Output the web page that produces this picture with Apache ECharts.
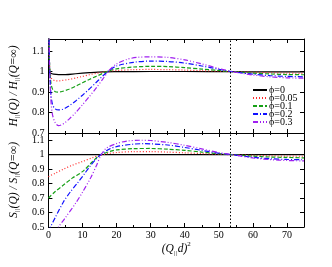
<!DOCTYPE html>
<html><head><meta charset="utf-8">
<script src="https://cdn.jsdelivr.net/npm/echarts@6/dist/echarts.min.js"></script>
<style>html,body{margin:0;padding:0;background:#fff}#c{width:332px;height:267px}</style>
</head><body><div id="c"></div>
<script>
// ---- data ----
const seriesNames = ['ϕ=0', 'ϕ=0.05', 'ϕ=0.1', 'ϕ=0.2', 'ϕ=0.3'];
const xTicks = [0, 10, 20, 30, 40, 50, 60, 70];
const criticalX = 53.5;

// H(Q)/H(Q=inf), top panel
const hX0 = [0, 0.3, 0.7, 1.5, 3, 5, 8, 12, 16, 20, 30, 40, 54, 62, 70, 75];
const hY0 = [1.3, 1.0, 0.992, 0.988, 0.986, 0.986, 0.99, 0.995, 0.999, 1.0, 1.001, 1.001, 1.0, 0.999, 0.999, 0.999];
const hX1 = [0, 0.3, 0.7, 1.2, 2, 3, 4, 6, 8, 10, 12, 14, 16, 18, 20, 25, 30, 35, 40, 45, 50, 54, 60, 65, 70, 75];
const hY1 = [1.35, 1.05, 0.975, 0.962, 0.956, 0.955, 0.957, 0.962, 0.969, 0.977, 0.985, 0.992, 0.998, 1.003, 1.006, 1.01, 1.011, 1.01, 1.008, 1.005, 1.002, 1.0, 0.997, 0.995, 0.993, 0.992];
const hX2 = [0, 0.3, 0.7, 1.2, 2, 2.8, 4, 6, 8, 10, 12, 14, 16, 18, 20, 25, 30, 35, 40, 45, 50, 54, 60, 65, 70, 75];
const hY2 = [1.4, 1.06, 0.95, 0.915, 0.902, 0.9, 0.903, 0.914, 0.929, 0.946, 0.962, 0.977, 0.992, 1.005, 1.014, 1.023, 1.026, 1.025, 1.02, 1.013, 1.006, 1.0, 0.993, 0.989, 0.986, 0.985];
const hX3 = [0, 0.3, 0.7, 1.2, 2, 3, 4, 5, 6, 8, 10, 12, 14, 16, 18, 20, 25, 30, 35, 40, 45, 50, 54, 60, 65, 70, 75];
const hY3 = [1.45, 1.05, 0.9, 0.84, 0.818, 0.813, 0.815, 0.822, 0.832, 0.857, 0.885, 0.915, 0.947, 0.98, 1.008, 1.028, 1.046, 1.052, 1.05, 1.042, 1.028, 1.012, 1.0, 0.988, 0.981, 0.977, 0.975];
const hX4 = [0, 0.3, 0.7, 1.2, 2, 3, 4, 5, 6, 8, 10, 12, 14, 16, 18, 20, 23, 26, 30, 35, 40, 45, 50, 54, 60, 65, 70, 75];
const hY4 = [1.5, 1.05, 0.87, 0.79, 0.75, 0.736, 0.741, 0.752, 0.767, 0.8, 0.838, 0.878, 0.92, 0.965, 1.01, 1.038, 1.06, 1.07, 1.073, 1.07, 1.058, 1.038, 1.016, 1.0, 0.984, 0.975, 0.97, 0.968];

// S(Q)/S(Q=inf), bottom panel
const sX0 = [0, 75];
const sY0 = [1.0, 1.0];
const sX1 = [0, 2, 4.4, 7, 10, 13, 15, 18, 20, 25, 30, 35, 40, 45, 50, 54, 60, 65, 70, 75];
const sY1 = [0.848, 0.872, 0.9, 0.927, 0.953, 0.98, 0.995, 1.01, 1.015, 1.021, 1.021, 1.018, 1.013, 1.008, 1.003, 1.0, 0.995, 0.992, 0.99, 0.989];
const sX2 = [0, 2, 4.4, 7, 10, 13, 15, 18, 20, 25, 30, 35, 40, 45, 50, 54, 60, 65, 70, 75];
const sY2 = [0.7, 0.745, 0.79, 0.838, 0.883, 0.953, 0.995, 1.022, 1.033, 1.042, 1.043, 1.038, 1.03, 1.018, 1.007, 1.0, 0.99, 0.984, 0.981, 0.978];
const sX3 = [0, 0.6, 2, 4.4, 6.5, 8.4, 10.5, 12.2, 14, 15.3, 18, 20, 25, 28, 30, 35, 40, 45, 50, 54, 60, 65, 70, 75];
const sY3 = [0.47, 0.5, 0.565, 0.673, 0.745, 0.8, 0.865, 0.92, 0.97, 1.0, 1.04, 1.056, 1.073, 1.076, 1.075, 1.067, 1.05, 1.03, 1.01, 1.0, 0.982, 0.972, 0.967, 0.965];
const sX4 = [1.5, 2.9, 5, 8, 10, 12.4, 14, 15.5, 17, 20, 23, 27, 30, 35, 40, 45, 50, 54, 60, 65, 70, 75];
const sY4 = [0.46, 0.5, 0.565, 0.665, 0.74, 0.84, 0.92, 1.0, 1.045, 1.077, 1.094, 1.1, 1.098, 1.085, 1.065, 1.04, 1.015, 1.0, 0.978, 0.966, 0.96, 0.957];

// ---- build ----
const hX = [hX0, hX1, hX2, hX3, hX4], hY = [hY0, hY1, hY2, hY3, hY4];
const sX = [sX0, sX1, sX2, sX3, sX4], sY = [sY0, sY1, sY2, sY3, sY4];
const colors = ['#000000', '#ff2a2a', '#16a016', '#1010ff', '#a020f0'];
const dashes = ['solid', [1, 2], [4, 2], [5, 2, 1, 2], [5, 2, 1, 2, 1, 2]];
const zip = (xs, ys) => xs.map((x, i) => [x, ys[i]]);
const serif = 'Liberation Serif, DejaVu Serif, serif';

function xAx(grid, pos, labels) {
  return {
    type: 'value', gridIndex: grid, position: pos, min: 0, max: 75, interval: 10,
    axisLine: { show: true, onZero: false, lineStyle: { color: '#000', width: 1 } },
    axisTick: { show: true, inside: true, length: 4, lineStyle: { color: '#000' } },
    minorTick: { show: true, splitNumber: 2, length: 2, lineStyle: { color: '#000' } },
    axisLabel: { show: labels, color: '#000', fontFamily: serif, fontSize: 10, margin: 3,
      customValues: xTicks },
    splitLine: { show: false }
  };
}
function yAx(grid, pos, min, max, labels, name) {
  const a = {
    type: 'value', gridIndex: grid, position: pos, min: min, max: max, interval: 0.1,
    axisLine: { show: true, onZero: false, lineStyle: { color: '#000', width: 1 } },
    axisTick: { show: true, inside: true, length: 4, lineStyle: { color: '#000' } },
    minorTick: { show: false },
    axisLabel: { show: labels, color: '#000', fontFamily: serif, fontSize: 10, margin: 4,
      formatter: v => String(Math.round(v * 10) / 10), showMaxLabel: false },
    splitLine: { show: false }
  };
  if (name) {
    a.name = name; a.nameLocation = 'middle'; a.nameGap = 19; a.nameRotate = 90;
    a.nameTextStyle = { fontFamily: serif, fontSize: 11, color: '#000',
      rich: { i: { fontFamily: serif, fontStyle: 'italic', fontSize: 11.5, color: '#000', lineHeight: 14 },
              s: { fontFamily: serif, fontStyle: 'italic', fontSize: 7, color: '#000', lineHeight: 14, verticalAlign: 'bottom', padding: [5, 0, 0, 0] } } };
  }
  return a;
}

const series = [];
for (let k = 0; k < 5; k++) {
  series.push({
    name: seriesNames[k], type: 'line', xAxisIndex: 0, yAxisIndex: 0,
    data: zip(hX[k], hY[k]), showSymbol: false, symbol: 'none', smooth: 0.3, clip: true,
    lineStyle: { color: colors[k], width: 1.2, type: dashes[k] }, itemStyle: { color: colors[k] },
    animation: false,
    markLine: k === 0 ? { silent: true, symbol: 'none', label: { show: false },
      lineStyle: { color: '#000', type: [1.5, 2], width: 1 }, data: [{ xAxis: criticalX }], animation: false } : undefined
  });
}
for (let k = 0; k < 5; k++) {
  series.push({
    name: seriesNames[k], type: 'line', xAxisIndex: 2, yAxisIndex: 2,
    data: zip(sX[k], sY[k]), showSymbol: false, symbol: 'none', smooth: 0.3, clip: true,
    lineStyle: { color: colors[k], width: 1.2, type: dashes[k] }, itemStyle: { color: colors[k] },
    animation: false,
    markLine: k === 0 ? { silent: true, symbol: 'none', label: { show: false },
      lineStyle: { color: '#000', type: [1.5, 2], width: 1 }, data: [{ xAxis: criticalX }], animation: false } : undefined
  });
}

const chart = echarts.init(document.getElementById('c'), null, { renderer: 'canvas' });
chart.setOption({
  animation: false,
  backgroundColor: '#fff',
  grid: [
    { left: 40, top: 39, width: 264, height: 94 },
    { left: 40, top: 133, width: 264, height: 94 }
  ],
  xAxis: [
    xAx(0, 'bottom', false), xAx(0, 'top', false),
    Object.assign(xAx(1, 'bottom', true), {
      name: '{i|(Q}{s|||}{i|d)}{p|2}', nameLocation: 'middle', nameGap: 13,
      nameTextStyle: { rich: {
        i: { fontFamily: serif, fontStyle: 'italic', fontSize: 11.5, color: '#000', lineHeight: 16 },
        s: { fontFamily: serif, fontStyle: 'italic', fontSize: 7, color: '#000', lineHeight: 16, verticalAlign: 'bottom', padding: [6, 0, 0, 0] },
        p: { fontFamily: serif, fontSize: 7, color: '#000', lineHeight: 16, verticalAlign: 'top', padding: [0, 0, 8, 0] } } }
    }),
    xAx(1, 'top', false)
  ],
  yAxis: [
    yAx(0, 'left', 0.7, 1.16, true, '{i|H}{s|||}{i|(Q) / H}{s|||}{i|(Q=∞)}'),
    yAx(0, 'right', 0.7, 1.16, false),
    yAx(1, 'left', 0.5, 1.15, true, '{i|S}{s|||}{i|(Q) / S}{s|||}{i|(Q=∞)}'),
    yAx(1, 'right', 0.5, 1.15, false)
  ],
  legend: {
    data: seriesNames, orient: 'vertical', left: 252, top: 85,
    itemWidth: 14, itemHeight: 6, itemGap: -2, padding: 0,
    itemStyle: { opacity: 0, borderWidth: 0 },
    textStyle: { fontFamily: serif, fontSize: 10, color: '#000', padding: [0, 0, 0, -3] },
    selectedMode: false
  },
  series: series
});
</script></body></html>
